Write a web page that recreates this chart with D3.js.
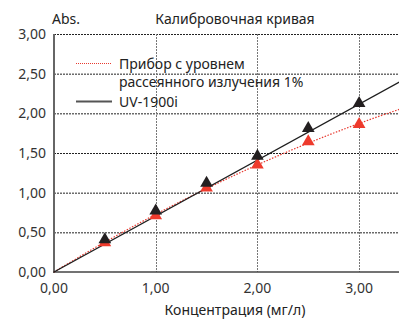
<!DOCTYPE html>
<html>
<head>
<meta charset="utf-8">
<script src="https://cdn.jsdelivr.net/npm/d3@7"></script>
<style>
  html, body { margin: 0; padding: 0; background: #fff; }
  svg { display: block; font-family: "Noto Sans", "Open Sans", sans-serif; }
</style>
</head>
<body>
<svg id="chart" width="399" height="320"></svg>
<script>
// Concentrations of the standards (mg/L)
const concentrations = [0.5, 1.0, 1.5, 2.0, 2.5, 3.0];
// Absorbance measured on the UV-1900i
const absUV1900i = [0.41, 0.77, 1.12, 1.46, 1.81, 2.125];
// Absorbance measured on an instrument with 1% stray light
const absStray = [0.37, 0.71, 1.06, 1.35, 1.645, 1.86];

// Calibration curves through the origin: y = a·x (UV-1900i), y = a·x + b·x² (stray light)
const trendUV1900i = [0.705];
const trendStray = [0.778, -0.0513];

const xTicks = [0, 1, 2, 3];
const yTicks = [0, 0.5, 1.0, 1.5, 2.0, 2.5, 3.0];

const legendLabels = [["Прибор с уровнем", "рассеянного излучения 1%"], ["UV-1900i"]];
const chartTitle = "Калибровочная кривая";
const yUnit = "Abs.";
const xTitle = "Концентрация (мг/л)";

const fmt = v => d3.format(".2f")(v).replace(".", ",");

const svg = d3.select("#chart");
const x = d3.scaleLinear().domain([0, 3.4]).range([54, 399.8]);
const y = d3.scaleLinear().domain([0, 3]).range([272, 34]);

const poly = coeffs => v => coeffs.reduce((s, c, i) => s + c * v ** (i + 1), 0);

// Grid
const g = svg.append("g");
g.selectAll("line.hgrid").data(yTicks.filter(t => t > 0)).join("line")
  .attr("x1", x(0)).attr("x2", 399)
  .attr("y1", d => y(d) + 0.5).attr("y2", d => y(d) + 0.5)
  .attr("stroke", "#222").attr("stroke-width", 1).attr("stroke-dasharray", "2,1");
g.selectAll("line.vgrid").data(xTicks.filter(t => t > 0)).join("line")
  .attr("x1", d => Math.round(x(d)) + 0.5).attr("x2", d => Math.round(x(d)) + 0.5)
  .attr("y1", y(3)).attr("y2", y(0))
  .attr("stroke", "#777").attr("stroke-width", 1).attr("stroke-dasharray", "2,1");

// Axes lines
g.append("line").attr("x1", x(0)).attr("x2", x(0)).attr("y1", y(3)).attr("y2", y(0) + 1)
  .attr("stroke", "#666").attr("stroke-width", 2);
g.append("line").attr("x1", x(0) - 1).attr("x2", 399).attr("y1", y(0)).attr("y2", y(0))
  .attr("stroke", "#444").attr("stroke-width", 1.5);

// Tick labels
svg.append("g").selectAll("text").data(yTicks).join("text")
  .attr("x", 46).attr("y", d => y(d) + 5)
  .attr("text-anchor", "end").attr("font-size", 14).attr("fill", "#333")
  .text(fmt);
svg.append("g").selectAll("text").data(xTicks).join("text")
  .attr("x", d => x(d)).attr("y", 293)
  .attr("text-anchor", "middle").attr("font-size", 14).attr("fill", "#333")
  .text(fmt);

// Titles
svg.append("text").attr("x", 235).attr("y", 24).attr("text-anchor", "middle")
  .attr("font-size", 14).attr("fill", "#222").text(chartTitle);
svg.append("text").attr("x", 52).attr("y", 24).attr("font-size", 14).attr("fill", "#222").text(yUnit);
svg.append("text").attr("x", 235).attr("y", 315).attr("text-anchor", "middle")
  .attr("font-size", 14).attr("fill", "#222").text(xTitle);

// Trend lines
const xs = d3.range(0, 3.4001, 0.05);
const line = d3.line().x(d => x(d[0])).y(d => y(d[1]));
const strayFn = poly(trendStray), uvFn = poly(trendUV1900i);
svg.append("path").datum(xs.map(v => [v, strayFn(v)]))
  .attr("d", line).attr("fill", "none")
  .attr("stroke", "#e8392f").attr("stroke-width", 1.2).attr("stroke-dasharray", "1.5,1.5");
svg.append("path").datum([0, 3.4].map(v => [v, uvFn(v)]))
  .attr("d", line).attr("fill", "none")
  .attr("stroke", "#1e1e1e").attr("stroke-width", 1.4);

// Markers
const tri = d3.symbol().type(d3.symbolTriangle).size(70);
svg.append("g").selectAll("path").data(concentrations).join("path")
  .attr("transform", (d, i) => `translate(${x(d)},${y(absStray[i])})`)
  .attr("d", tri).attr("fill", "#ee3a2c");
svg.append("g").selectAll("path").data(concentrations).join("path")
  .attr("transform", (d, i) => `translate(${x(d)},${y(absUV1900i[i])})`)
  .attr("d", tri).attr("fill", "#231f20");

// Legend
const leg = svg.append("g");
leg.append("line").attr("x1", 76).attr("x2", 112).attr("y1", 63.5).attr("y2", 63.5)
  .attr("stroke", "#e8392f").attr("stroke-width", 1).attr("stroke-dasharray", "1,1");
leg.append("line").attr("x1", 76).attr("x2", 112).attr("y1", 101.5).attr("y2", 101.5)
  .attr("stroke", "#555").attr("stroke-width", 2);
leg.append("text").attr("x", 119).attr("y", 69).attr("font-size", 14).attr("fill", "#222")
  .text(legendLabels[0][0]);
leg.append("text").attr("x", 119).attr("y", 87).attr("font-size", 14).attr("fill", "#222")
  .text(legendLabels[0][1]);
leg.append("text").attr("x", 119).attr("y", 107).attr("font-size", 14).attr("fill", "#222")
  .text(legendLabels[1][0]);
</script>
</body>
</html>
